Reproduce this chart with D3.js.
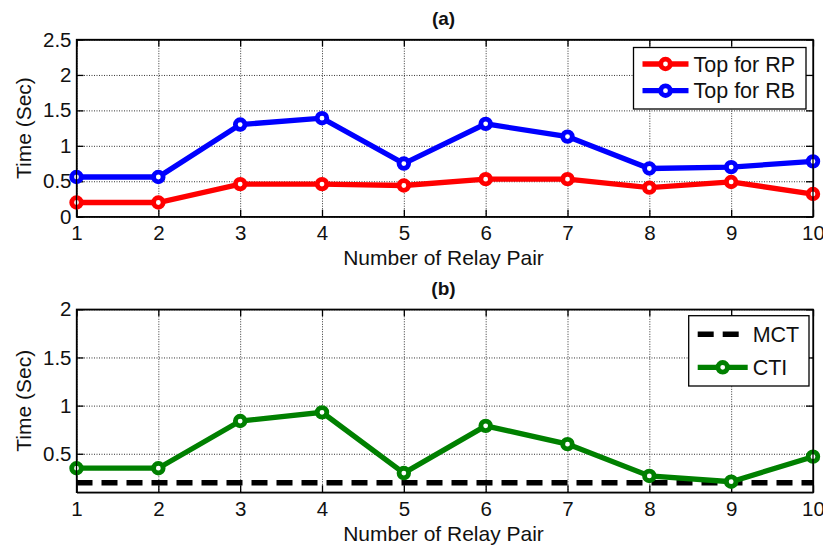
<!DOCTYPE html>
<html>
<head>
<meta charset="utf-8">
<script src="https://cdn.jsdelivr.net/npm/d3@7"></script>
<style>
  body { margin: 0; background: #fff; }
  svg { display: block; font-family: "Liberation Sans", Arial, sans-serif; }
  .grid line { stroke: #333; stroke-dasharray: 1,1.5; stroke-width: 1; }
  .grid path { display: none; }
  .ax path, .ax line { stroke: #000; stroke-width: 1.3; }
  .ax text { font-size: 20.5px; fill: #111; font-family: "Liberation Sans", Arial, sans-serif; }
</style>
</head>
<body>
<div id="chart"></div>
<script>
// relay pair index (x axis)
var pairs = [1, 2, 3, 4, 5, 6, 7, 8, 9, 10];

// panel (a): operating times
var topRP = [0.20, 0.20, 0.46, 0.46, 0.44, 0.53, 0.53, 0.41, 0.49, 0.32];
var topRB = [0.56, 0.56, 1.30, 1.39, 0.75, 1.31, 1.13, 0.68, 0.70, 0.78];

// panel (b): coordination
var mct = [0.2, 0.2, 0.2, 0.2, 0.2, 0.2, 0.2, 0.2, 0.2, 0.2];
var cti = [0.35, 0.35, 0.84, 0.93, 0.30, 0.79, 0.60, 0.27, 0.21, 0.47];

var yTicksA = [0, 0.5, 1, 1.5, 2, 2.5];
var yTicksB = [0.5, 1, 1.5, 2];

var W = 823, H = 545;
var left = 76.5, right = 813; // plot area edges (both panels)

var svg = d3.select("#chart").append("svg")
    .attr("width", W)
    .attr("height", H);

var x = d3.scaleLinear()
    .domain([1, 10])
    .range([left, right]);

function panel(opts) {
    var y = d3.scaleLinear()
        .domain(opts.yDomain)
        .range([opts.bottom, opts.top]);
    var h = opts.bottom - opts.top;
    var g = svg.append("g");

    // dotted grid
    g.append("g")
        .attr("class", "grid")
        .attr("transform", "translate(0," + opts.bottom + ")")
        .call(d3.axisBottom(x).tickValues(pairs).tickSize(-h).tickFormat(""));
    g.append("g")
        .attr("class", "grid")
        .attr("transform", "translate(" + left + ",0)")
        .call(d3.axisLeft(y).tickValues(opts.yTicks).tickSize(-(right - left)).tickFormat(""));

    // axes with inward ticks on all four sides
    g.append("g")
        .attr("class", "ax")
        .attr("transform", "translate(0," + opts.bottom + ")")
        .call(d3.axisBottom(x).tickValues(pairs).tickSizeInner(-7).tickSizeOuter(0).tickPadding(9));
    g.append("g")
        .attr("class", "ax")
        .attr("transform", "translate(0," + opts.top + ")")
        .call(d3.axisTop(x).tickValues(pairs).tickSizeInner(-7).tickSizeOuter(0).tickFormat(""));
    g.append("g")
        .attr("class", "ax")
        .attr("transform", "translate(" + left + ",0)")
        .call(d3.axisLeft(y).tickValues(opts.yTicks).tickSizeInner(-7).tickSizeOuter(0).tickPadding(5)
            .tickFormat(d3.format("")));
    g.append("g")
        .attr("class", "ax")
        .attr("transform", "translate(" + right + ",0)")
        .call(d3.axisRight(y).tickValues(opts.yTicks).tickSizeInner(-7).tickSizeOuter(0).tickFormat(""));

    // series
    opts.series.forEach(function (s) {
        var line = d3.line()
            .x(function (d, i) { return x(pairs[i]); })
            .y(function (d) { return y(d); });
        g.append("path")
            .datum(s.values)
            .attr("fill", "none")
            .attr("stroke", s.color)
            .attr("stroke-width", s.dash ? 5.5 : 5.3)
            .attr("stroke-dasharray", s.dash || null)
            .attr("d", line);
        if (s.marker) {
            g.selectAll(null)
                .data(s.values)
                .enter().append("circle")
                .attr("cx", function (d, i) { return x(pairs[i]); })
                .attr("cy", function (d) { return y(d); })
                .attr("r", 4.8)
                .attr("fill", "#fff")
                .attr("stroke", s.color)
                .attr("stroke-width", 4.8);
        }
    });

    // title
    svg.append("text")
        .attr("x", 443.5)
        .attr("y", opts.top - 14.5)
        .attr("text-anchor", "middle")
        .attr("font-weight", "bold")
        .attr("font-size", "19px")
        .attr("fill", "#111")
        .text(opts.title);

    // axis labels
    svg.append("text")
        .attr("x", 443.5)
        .attr("y", opts.bottom + 48.5)
        .attr("text-anchor", "middle")
        .attr("font-size", "21px")
        .attr("fill", "#111")
        .text("Number of Relay Pair");
    svg.append("text")
        .attr("transform", "translate(31," + ((opts.top + opts.bottom) / 2) + ") rotate(-90)")
        .attr("text-anchor", "middle")
        .attr("font-size", "21px")
        .attr("fill", "#111")
        .text("Time (Sec)");

    // legend
    var lg = opts.legend;
    svg.append("rect")
        .attr("x", lg.x)
        .attr("y", lg.y)
        .attr("width", lg.w)
        .attr("height", lg.h)
        .attr("fill", "#fff")
        .attr("stroke", "#000")
        .attr("stroke-width", 1.3);
    lg.items.forEach(function (s, i) {
        var cy = lg.y + lg.row0 + i * lg.rowGap;
        svg.append("line")
            .attr("x1", lg.x + 9)
            .attr("x2", lg.x + 9 + lg.sample)
            .attr("y1", cy)
            .attr("y2", cy)
            .attr("stroke", s.color)
            .attr("stroke-width", s.dash ? 5.5 : 5.3)
            .attr("stroke-dasharray", s.dash || null);
        if (s.marker) {
            svg.append("circle")
                .attr("cx", lg.x + 9 + lg.sample / 2)
                .attr("cy", cy)
                .attr("r", 4.8)
                .attr("fill", "#fff")
                .attr("stroke", s.color)
                .attr("stroke-width", 4.8);
        }
        svg.append("text")
            .attr("x", lg.x + 9 + lg.sample + 5)
            .attr("y", cy + 7.6)
            .attr("font-size", "21.5px")
            .attr("fill", "#111")
            .text(s.name);
    });

    // box on top
    g.append("rect")
        .attr("x", left)
        .attr("y", opts.top)
        .attr("width", right - left)
        .attr("height", h)
        .attr("fill", "none")
        .attr("stroke", "#000")
        .attr("stroke-width", 1.3);
}

var rp = { name: "Top for RP", values: topRP, color: "#ff0000", marker: true };
var rb = { name: "Top for RB", values: topRB, color: "#0000ff", marker: true };
var mc = { name: "MCT", values: mct, color: "#000", dash: "16,9" };
var ct = { name: "CTI", values: cti, color: "#008000", marker: true };

panel({
    top: 39.5, bottom: 216.7,
    yDomain: [0, 2.5], yTicks: yTicksA,
    series: [rp, rb],
    title: "(a)",
    legend: { x: 633.5, y: 47.5, w: 172.5, h: 61.5, row0: 16.5, rowGap: 26.7, sample: 46, items: [rp, rb] }
});

panel({
    top: 309.3, bottom: 492.3,
    yDomain: [0.1, 2], yTicks: yTicksB,
    series: [mc, ct],
    title: "(b)",
    legend: { x: 688.7, y: 315.7, w: 120.3, h: 70.3, row0: 18.6, rowGap: 33, sample: 50, items: [mc, ct] }
});
</script>
</body>
</html>
